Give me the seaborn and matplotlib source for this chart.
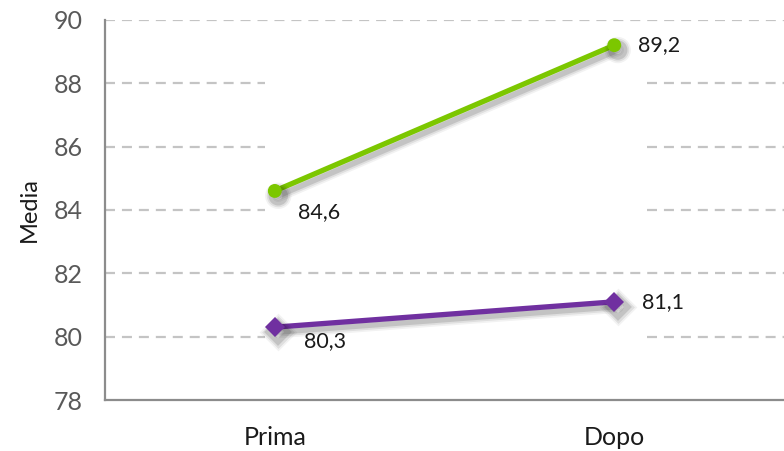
import matplotlib
matplotlib.use("Agg")
import matplotlib.pyplot as plt
import matplotlib.patheffects as pe
import seaborn as sns
import pandas as pd

categories = ["Prima", "Dopo"]
series_a = [84.6, 89.2]   # green
series_b = [80.3, 81.1]   # purple
label_a = ["84,6", "89,2"]
label_b = ["80,3", "81,1"]
y_ticks = [78, 80, 82, 84, 86, 88, 90]

sns.set_theme(style="white")
plt.rcParams["font.family"] = ["Lato", "DejaVu Sans"]
plt.rcParams["lines.scale_dashes"] = False

df = pd.DataFrame({
    "Fase": categories * 2,
    "Media": series_a + series_b,
    "Serie": ["A"] * 2 + ["B"] * 2,
})

fig = plt.figure(figsize=(7.84, 4.51), dpi=100)
ax = fig.add_axes([0.134, 0.113, 0.866, 0.843])

green = "#7cc700"
purple = "#7030a0"

# gridlines (dashed, some interrupted in the middle as in the reference)
grid_kw = dict(color="#c4c4c4", linewidth=1.6, linestyle=(0, (7.2, 5.0)), zorder=0)
for yv in y_ticks[1:]:
    if yv in (82, 90):
        ax.plot([-0.5, 1.5], [yv, yv], **grid_kw)
    else:
        ax.plot([-0.5, -0.03], [yv, yv], **grid_kw)
        ax.plot([1.096, 1.5], [yv, yv], **grid_kw)

sns.lineplot(data=df, x="Fase", y="Media", hue="Serie", style="Serie",
             palette={"A": green, "B": purple},
             markers={"A": "o", "B": "D"}, dashes=False,
             linewidth=3.8, markersize=10, markeredgewidth=0,
             legend=False, ax=ax, zorder=3)

shadow = [
    pe.SimpleLineShadow(offset=(2.5, -3.5), shadow_color="black", alpha=0.05, linewidth=9),
    pe.SimpleLineShadow(offset=(2.5, -3.5), shadow_color="black", alpha=0.08, linewidth=6.5),
    pe.SimpleLineShadow(offset=(2.5, -3.5), shadow_color="black", alpha=0.12, linewidth=4),
    pe.Normal(),
]
for ln in ax.get_lines()[-2:]:
    ln.set_path_effects(shadow)

# data labels
offsets_a = [(17, -15), (17, 0)]
offsets_b = [(21, -10), (20, 0)]
for i in range(2):
    ax.annotate(label_a[i], (i, series_a[i]), xytext=offsets_a[i], textcoords="offset points",
                ha="left", va="center", fontsize=15.5, color="#1a1a1a", zorder=5)
    ax.annotate(label_b[i], (i, series_b[i]), xytext=offsets_b[i], textcoords="offset points",
                ha="left", va="center", fontsize=15.5, color="#1a1a1a", zorder=5)

ax.set_xlim(-0.5, 1.5)
ax.set_ylim(78, 90)
ax.set_yticks(y_ticks)
ax.set_xticks(range(len(categories)))
ax.set_xticklabels(categories)
ax.tick_params(axis="y", labelsize=18, colors="#595959", length=0, pad=16)
ax.tick_params(axis="x", labelsize=18, labelcolor="#1a1a1a", length=0, pad=19)
ax.set_xlabel("")
ax.set_ylabel("Media", fontsize=17, color="#1a1a1a", labelpad=10)

for s in ["top", "right"]:
    ax.spines[s].set_visible(False)
for s in ["left", "bottom"]:
    ax.spines[s].set_color("#8c8c8c")
    ax.spines[s].set_linewidth(1.6)

fig.savefig("out.png", dpi=100)
